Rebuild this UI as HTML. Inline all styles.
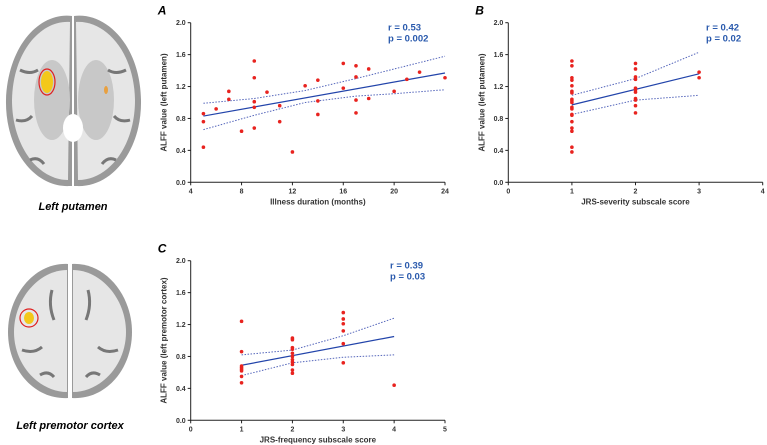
<!DOCTYPE html>
<html><head><meta charset="utf-8"><style>
body{margin:0;background:#fff;width:767px;height:445px;overflow:hidden;font-family:"Liberation Sans",sans-serif}
svg{position:absolute;left:0;top:0}
</style></head><body>
<svg id="s" width="767" height="445" xmlns="http://www.w3.org/2000/svg" font-family="Liberation Sans, sans-serif">
<g>
<path d="M72,16 C40,12 8,45 6,100 C5,150 35,188 70,186 L72,186 Z" fill="#9a9a9a"/>
<path d="M74,16 C106,12 140,45 141,100 C142,150 112,188 76,186 L74,186 Z" fill="#9a9a9a"/>
<path d="M70,22 C42,20 13,50 12,100 C12,146 38,180 68,180 Z" fill="#e6e6e6"/>
<path d="M76,22 C104,20 134,50 135,100 C135,146 109,180 78,180 Z" fill="#e6e6e6"/>
<ellipse cx="52" cy="100" rx="18" ry="40" fill="#c8c8c8"/>
<ellipse cx="96" cy="100" rx="18" ry="40" fill="#c8c8c8"/>
<ellipse cx="73" cy="128" rx="10" ry="14" fill="#fff"/>
<path d="M20,70 q10,5 18,0 M16,120 q10,3 16,-4 M126,70 q-10,5 -18,0 M130,120 q-10,3 -16,-4 M30,160 q8,-4 14,4 M116,160 q-8,-4 -14,4" stroke="#777" stroke-width="3" fill="none"/>
<ellipse cx="47" cy="82" rx="6" ry="11" fill="#f3c81a"/>
<ellipse cx="47" cy="82" rx="8" ry="13" fill="none" stroke="#e02020" stroke-width="1.2"/>
<ellipse cx="106" cy="90" rx="2" ry="4" fill="#e8a040"/>
</g>
<text x="73" y="210" font-size="11" font-weight="bold" font-style="italic" text-anchor="middle">Left putamen</text>
<g>
<path d="M68,264 C35,262 8,295 8,332 C8,370 35,400 68,398 Z" fill="#9a9a9a"/>
<path d="M72,264 C105,262 132,295 132,332 C132,370 105,400 72,398 Z" fill="#9a9a9a"/>
<path d="M67,270 C40,270 14,298 14,332 C14,366 40,392 67,392 Z" fill="#e6e6e6"/>
<path d="M73,270 C100,270 126,298 126,332 C126,366 100,392 73,392 Z" fill="#e6e6e6"/>
<path d="M22,350 q12,4 20,-3 M52,290 q-4,15 2,30 M88,290 q4,15 -2,30 M118,350 q-12,4 -20,-3 M40,375 q8,-5 14,2 M100,375 q-8,-5 -14,2" stroke="#777" stroke-width="3" fill="none"/>
<ellipse cx="29" cy="318" rx="5" ry="6" fill="#f3c81a"/>
<ellipse cx="29" cy="318" rx="9" ry="9" fill="none" stroke="#e02020" stroke-width="1.2"/>
</g>
<text x="70" y="429" font-size="11" font-weight="bold" font-style="italic" text-anchor="middle">Left premotor cortex</text>
</svg>
<script>
// Chart A data
const aX=[5,5,5,6,7,7,8,9,9,9,9,9,10,11,11,12,13,14,14,14,16,16,17,17,17,17,18,18,20,21,22,24];
const aY=[0.86,0.76,0.44,0.92,1.14,1.04,0.64,1.52,1.31,1.01,0.94,0.68,1.13,0.96,0.76,0.38,1.21,1.28,1.02,0.85,1.49,1.18,1.46,1.32,1.03,0.87,1.42,1.05,1.14,1.29,1.38,1.31];
const aFitX=[5,24];const aFitY=[0.83,1.37];
const aCiX=[5,9,13,17,20,24];
const aCiUp=[0.99,1.05,1.15,1.30,1.42,1.58];
const aCiLo=[0.66,0.84,1.00,1.08,1.11,1.16];
const aXTicks=[4,8,12,16,20,24];
// Chart B data
const bX=[1,1,1,1,1,1,1,1,1,1,1,1,1,1,1,1,1,1,1,2,2,2,2,2,2,2,2,2,2,2,3,3];
const bY=[1.52,1.46,1.31,1.28,1.21,1.14,1.12,1.04,1.02,1.00,0.94,0.92,0.85,0.84,0.76,0.68,0.64,0.44,0.38,1.49,1.42,1.32,1.29,1.18,1.16,1.13,1.05,1.03,0.96,0.87,1.38,1.31];
const bFitX=[1,3];const bFitY=[0.97,1.36];
const bCiX=[1,2,3];const bCiUp=[1.09,1.30,1.63];const bCiLo=[0.85,1.03,1.09];
const bXTicks=[0,1,2,3,4];
// Chart C data
const cX=[1,1,1,1,1,1,1,1,2,2,2,2,2,2,2,2,2,2,2,3,3,3,3,3,3,4];
const cY=[1.24,0.86,0.68,0.66,0.64,0.62,0.55,0.47,1.03,1.01,0.91,0.89,0.84,0.80,0.76,0.73,0.70,0.63,0.59,1.35,1.27,1.21,1.12,0.96,0.72,0.44];
const cFitX=[1,4];const cFitY=[0.69,1.05];
const cCiX=[1,2,3,4];const cCiUp=[0.82,0.88,1.06,1.28];const cCiLo=[0.56,0.72,0.79,0.82];
const cXTicks=[0,1,2,3,4,5];
const yTicks=[0,0.4,0.8,1.2,1.6,2.0];

const NS="http://www.w3.org/2000/svg";
const svg=document.getElementById('s');
function mk(t,a,p){const e=document.createElementNS(NS,t);for(const k in a)e.setAttribute(k,a[k]);(p||svg).appendChild(e);return e;}
function chart(o){
  const g=mk('g',{});
  
  
  const sx=v=>o.x0+(v-o.xmin)/(o.xmax-o.xmin)*(o.x1-o.x0);
  const sy=v=>o.y0-(v/2)*(o.y0-o.y1);
  const t=mk('text',{x:o.x0-33,y:o.y1-8,'font-size':12,'font-weight':'bold','font-style':'italic'},g);t.textContent=o.letter;
  
  
  const ax=mk('path',{d:`M${o.x0},${o.y1}V${o.y0}H${o.x1}`,stroke:'#222','stroke-width':1,fill:'none'},g);
  
  
  yTicks.forEach(v=>{const y=sy(v);mk('line',{x1:o.x0-3,x2:o.x0,y1:y,y2:y,stroke:'#222'},g);
    const l=mk('text',{x:o.x0-5,y:y+2.5,'font-size':7,'font-weight':'bold','text-anchor':'end',fill:'#333'},g);l.textContent=v.toFixed(1);
    
    });
  o.xt.forEach(v=>{const x=sx(v);mk('line',{x1:x,x2:x,y1:o.y0,y2:o.y0+3,stroke:'#222'},g);
    const l=mk('text',{x:x,y:o.y0+11,'font-size':7,'font-weight':'bold','text-anchor':'middle',fill:'#333'},g);l.textContent=v;
    
    });
  const xl=mk('text',{x:(o.x0+o.x1)/2,y:o.y0+22,'font-size':8,'font-weight':'bold','text-anchor':'middle',fill:'#333'},g);xl.textContent=o.xlab;
  
  
  const yc=(o.y0+o.y1)/2;
  const yl=mk('text',{x:o.x0-24,y:yc,'font-size':8,'font-weight':'bold','text-anchor':'middle',fill:'#333',transform:`rotate(-90 ${o.x0-24} ${yc})`},g);yl.textContent=o.ylab;
  
  
  [o.cu,o.cl].forEach((arr,i)=>{const d=o.cx.map((v,j)=>(j?'L':'M')+sx(v)+','+sy(arr[j])).join('');
    const p=mk('path',{d:d,stroke:'#5566bb',fill:'none','stroke-width':1,'stroke-dasharray':'1.5,1.5'},g);
    
    });
  const f=mk('line',{x1:sx(o.fx[0]),y1:sy(o.fy[0]),x2:sx(o.fx[1]),y2:sy(o.fy[1]),stroke:'#2244aa','stroke-width':1.2},g);
  
  
  o.px.forEach((v,i)=>{const c=mk('circle',{cx:sx(v),cy:sy(o.py[i]),r:1.8,fill:'#e8231f'},g);
    
    });
  o.stats.forEach((s,i)=>{const e=mk('text',{x:o.sxp,y:o.y1+8+i*11,'font-size':9.5,'font-weight':'bold',fill:'#2a5aad'},g);e.textContent=s;
    
    });
}
chart({name:'chart-a',letter:'A',x0:190.7,x1:445,y0:182.3,y1:22.7,xmin:4,xmax:24,xt:aXTicks,xlab:'Illness duration (months)',ylab:'ALFF value (left putamen)',px:aX,py:aY,fx:aFitX,fy:aFitY,cx:aCiX,cu:aCiUp,cl:aCiLo,stats:['r = 0.53','p = 0.002'],sxp:388});
chart({name:'chart-b',letter:'B',x0:508.3,x1:762.7,y0:182.3,y1:22.7,xmin:0,xmax:4,xt:bXTicks,xlab:'JRS-severity subscale score',ylab:'ALFF value (left putamen)',px:bX,py:bY,fx:bFitX,fy:bFitY,cx:bCiX,cu:bCiUp,cl:bCiLo,stats:['r = 0.42','p = 0.02'],sxp:706});
chart({name:'chart-c',letter:'C',x0:190.7,x1:445,y0:420.3,y1:260.7,xmin:0,xmax:5,xt:cXTicks,xlab:'JRS-frequency subscale score',ylab:'ALFF value (left premotor cortex)',px:cX,py:cY,fx:cFitX,fy:cFitY,cx:cCiX,cu:cCiUp,cl:cCiLo,stats:['r = 0.39','p = 0.03'],sxp:390});
</script>
</body></html>
